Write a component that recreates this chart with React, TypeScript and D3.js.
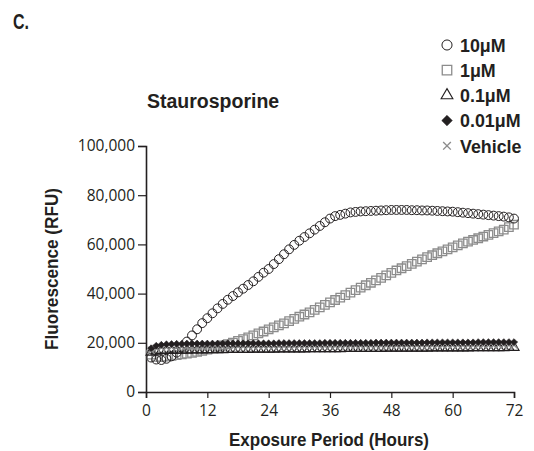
import React, { useEffect, useRef } from 'react';
import * as d3 from 'd3';

// Exposure time (hours) and fluorescence readings (RFU) per concentration
const hours = [
  1, 2, 3, 4, 5, 6, 7, 8, 9, 10, 11, 12, 13, 14, 15, 16, 17, 18,
  19, 20, 21, 22, 23, 24, 25, 26, 27, 28, 29, 30, 31, 32, 33, 34, 35, 36,
  37, 38, 39, 40, 41, 42, 43, 44, 45, 46, 47, 48, 49, 50, 51, 52, 53, 54,
  55, 56, 57, 58, 59, 60, 61, 62, 63, 64, 65, 66, 67, 68, 69, 70, 71, 72,
];

const conc10uM = [
  14000, 13200, 13000, 13500, 14500, 16000, 18000, 20500, 23000, 25500, 28000, 30000,
  32000, 34000, 35800, 37500, 39000, 40500, 42000, 43500, 45000, 46800, 48500, 50000,
  52000, 54000, 56000, 58000, 59800, 61500, 63000, 64500, 66000, 67500, 69000, 70500,
  71500, 72000, 72500, 73000, 73200, 73400, 73500, 73600, 73700, 73800, 73900, 74000,
  74000, 74000, 74000, 73900, 73900, 73800, 73800, 73700, 73600, 73500, 73400, 73300,
  73100, 72900, 72700, 72500, 72300, 72100, 71900, 71700, 71500, 71300, 71000, 70500,
];

const conc1uM = [
  15200, 14300, 14200, 14400, 14700, 15000, 15300, 15600, 15900, 16300, 16700, 17200,
  17700, 18300, 18900, 19500, 20100, 20800, 21500, 22200, 23000, 23800, 24600, 25500,
  26300, 27100, 27900, 28800, 29700, 30600, 31500, 32400, 33400, 34400, 35400, 36400,
  37400, 38400, 39400, 40400, 41400, 42400, 43400, 44400, 45400, 46400, 47400, 48400,
  49400, 50300, 51200, 52100, 53000, 53900, 54800, 55600, 56400, 57200, 58000, 58800,
  59600, 60400, 61100, 61800, 62500, 63200, 63900, 64600, 65300, 66000, 67000, 68000,
];

const conc01uM = [
  16200, 16600, 16800, 16900, 16900, 17000, 17000, 17000, 17100, 17100, 17100, 17200,
  17200, 17200, 17200, 17300, 17300, 17300, 17300, 17300, 17400, 17400, 17400, 17400,
  17400, 17500, 17500, 17500, 17500, 17500, 17500, 17600, 17600, 17600, 17600, 17600,
  17600, 17600, 17700, 17700, 17700, 17700, 17700, 17700, 17700, 17700, 17800, 17800,
  17800, 17800, 17800, 17800, 17800, 17800, 17800, 17900, 17900, 17900, 17900, 17900,
  17900, 17900, 17900, 18000, 18000, 18000, 18000, 18000, 18000, 18000, 18100, 18100,
];

const conc001uM = [
  17800, 18800, 19200, 19400, 19500, 19600, 19600, 19700, 19700, 19700, 19700, 19700,
  19700, 19700, 19700, 19800, 19800, 19800, 19800, 19800, 19800, 19800, 19800, 19800,
  19800, 19900, 19900, 19900, 19900, 19900, 19900, 19900, 19900, 19900, 20000, 20000,
  20000, 20000, 20000, 20000, 20000, 20000, 20000, 20000, 20100, 20100, 20100, 20100,
  20100, 20100, 20100, 20100, 20100, 20100, 20200, 20200, 20200, 20200, 20200, 20200,
  20200, 20200, 20200, 20200, 20300, 20300, 20300, 20300, 20300, 20300, 20300, 20300,
];

const vehicle = [
  17000, 17800, 18100, 18200, 18300, 18300, 18300, 18400, 18400, 18400, 18400, 18400,
  18400, 18500, 18500, 18500, 18500, 18500, 18500, 18500, 18500, 18600, 18600, 18600,
  18600, 18600, 18600, 18600, 18600, 18700, 18700, 18700, 18700, 18700, 18700, 18700,
  18700, 18700, 18800, 18800, 18800, 18800, 18800, 18800, 18800, 18800, 18800, 18800,
  18900, 18900, 18900, 18900, 18900, 18900, 18900, 18900, 18900, 18900, 19000, 19000,
  19000, 19000, 19000, 19000, 19000, 19000, 19000, 19000, 19100, 19100, 19100, 19100,
];

const legendLabels = ['10μM', '1μM', '0.1μM', '0.01μM', 'Vehicle'];
const xTicks = [0, 12, 24, 36, 48, 60, 72];
const yTicks = [0, 20000, 40000, 60000, 80000, 100000];

const boldFont = "'Liberation Sans', Arial, sans-serif";
const tickFont = "'Open Sans', 'Noto Sans', sans-serif";
const ink = '#231f20';
const gray = '#8c8c8c';

type Series = {
  label: string;
  values: number[];
  symbol: d3.SymbolType;
  size: number;
  legendSize: number;
  fill: string;
  stroke: string;
  strokeWidth: number;
};

const App = () => {
  const ref = useRef<SVGSVGElement>(null);

  useEffect(() => {
    if (!ref.current) return;
    const svg = d3.select(ref.current);
    svg.selectAll('*').remove();

    const width = 534;
    const height = 451;
    const margin = { top: 146, right: 20, bottom: 59, left: 146 };

    const x = d3.scaleLinear()
      .domain([0, 72])
      .range([margin.left, width - margin.right]);

    const y = d3.scaleLinear()
      .domain([0, 100000])
      .range([height - margin.bottom, margin.top]);

    // draw order: squares under circles, band series on top
    const series: Series[] = [
      { label: legendLabels[1], values: conc1uM, symbol: d3.symbolSquare, size: 72, legendSize: 90, fill: 'none', stroke: gray, strokeWidth: 1.3 },
      { label: legendLabels[0], values: conc10uM, symbol: d3.symbolCircle, size: 62, legendSize: 80, fill: 'none', stroke: ink, strokeWidth: 1 },
      { label: legendLabels[2], values: conc01uM, symbol: d3.symbolTriangle, size: 45, legendSize: 60, fill: 'none', stroke: ink, strokeWidth: 1.1 },
      { label: legendLabels[4], values: vehicle, symbol: d3.symbolTimes, size: 34, legendSize: 40, fill: 'none', stroke: gray, strokeWidth: 1.4 },
      { label: legendLabels[3], values: conc001uM, symbol: d3.symbolDiamond2, size: 30, legendSize: 70, fill: ink, stroke: ink, strokeWidth: 0.6 },
    ];

    // Axes
    const xAxis = svg.append('g')
      .attr('transform', `translate(0,${y(0)})`)
      .call(d3.axisBottom(x).tickValues(xTicks).tickSize(6).tickPadding(4));
    const yAxis = svg.append('g')
      .attr('transform', `translate(${x(0)},0)`)
      .call(d3.axisLeft(y).tickValues(yTicks).tickSize(8).tickPadding(3).tickFormat(d3.format(',')));

    [xAxis, yAxis].forEach(ax => {
      ax.select('.domain').attr('stroke', ink).attr('stroke-width', 1.6);
      ax.selectAll('.tick line').attr('stroke', ink).attr('stroke-width', 1.2);
      ax.selectAll('.tick text')
        .attr('fill', ink)
        .style('font-family', tickFont)
        .style('font-size', '15.5px');
    });
    xAxis.selectAll('.tick text').attr('dy', '0.92em');

    // Markers
    series.forEach(s => {
      const path = d3.symbol().type(s.symbol).size(s.size)();
      svg.append('g')
        .selectAll('path')
        .data(s.values)
        .join('path')
        .attr('d', path)
        .attr('transform', (d, i) => `translate(${x(hours[i])},${y(d)})`)
        .attr('fill', s.fill)
        .attr('stroke', s.stroke)
        .attr('stroke-width', s.strokeWidth);
    });

    // Legend
    const legendOrder = [1, 0, 2, 4, 3];
    const legend = svg.append('g').attr('transform', 'translate(447,45)');
    legendLabels.forEach((label, i) => {
      const s = series[legendOrder[i]];
      const row = legend.append('g').attr('transform', `translate(0,${i * 25.2})`);
      row.append('path')
        .attr('d', d3.symbol().type(s.symbol).size(s.legendSize)())
        .attr('fill', s.fill)
        .attr('stroke', s.stroke)
        .attr('stroke-width', s.strokeWidth);
      row.append('text')
        .attr('transform', 'translate(13,0) scale(0.94,1)')
        .attr('dy', '0.36em')
        .attr('fill', ink)
        .style('font-family', boldFont)
        .style('font-weight', 'bold')
        .style('font-size', '19px')
        .text(label);
    });

    // Titles
    svg.append('text')
      .attr('x', 13)
      .attr('y', 29)
      .attr('textLength', 16)
      .attr('lengthAdjust', 'spacingAndGlyphs')
      .attr('fill', ink)
      .style('font-family', boldFont)
      .style('font-weight', 'bold')
      .style('font-size', '22px')
      .text('C.');

    svg.append('text')
      .attr('x', 147)
      .attr('y', 108)
      .attr('fill', ink)
      .style('font-family', boldFont)
      .style('font-weight', 'bold')
      .style('font-size', '19.5px')
      .text('Staurosporine');

    svg.append('text')
      .attr('transform', `translate(58,${(y(0) + y(100000)) / 2}) rotate(-90)`)
      .attr('text-anchor', 'middle')
      .attr('textLength', 162)
      .attr('lengthAdjust', 'spacingAndGlyphs')
      .attr('fill', ink)
      .style('font-family', boldFont)
      .style('font-weight', 'bold')
      .style('font-size', '19px')
      .text('Fluorescence (RFU)');

    svg.append('text')
      .attr('x', (x(0) + x(72)) / 2 - 1)
      .attr('y', 446)
      .attr('text-anchor', 'middle')
      .attr('textLength', 200)
      .attr('lengthAdjust', 'spacingAndGlyphs')
      .attr('fill', ink)
      .style('font-family', boldFont)
      .style('font-weight', 'bold')
      .style('font-size', '19px')
      .text('Exposure Period (Hours)');
  }, []);

  return (
    <svg
      ref={ref}
      width={534}
      height={451}
      style={{ position: 'absolute', left: 0, top: 0, background: '#fff' }}
    />
  );
};

export default App;
